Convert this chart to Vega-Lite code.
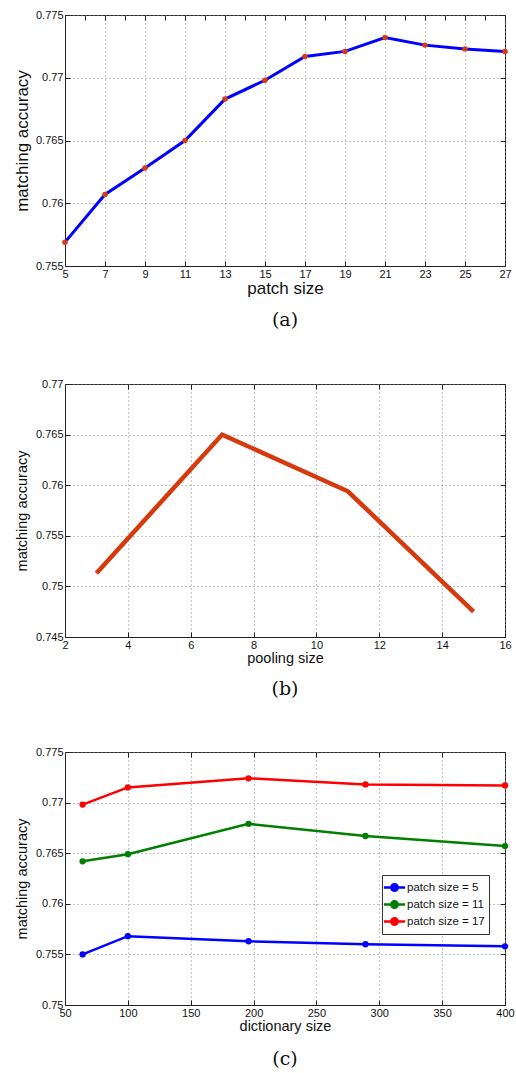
{
  "$schema": "https://vega.github.io/schema/vega-lite/v6.json",
  "padding": {"top": 8, "left": 12, "right": 2, "bottom": 2},
  "spacing": 46,
  "config": {
    "font": "Liberation Sans",
    "view": {"stroke": "#222", "strokeWidth": 1},
    "axis": {
      "labelFont": "Liberation Sans",
      "labelFontSize": 11,
      "labelColor": "#111",
      "titleFont": "Liberation Sans",
      "titleFontWeight": "normal",
      "titleColor": "#111",
      "domainColor": "#222",
      "tickColor": "#222",
      "tickSize": -5,
      "labelPadding": 7,
      "gridColor": "#888",
      "gridDash": [1, 3],
      "gridOpacity": 1,
      "labelFlush": false,
      "labelOverlap": false
    },
    "title": {"font": "DejaVu Serif", "fontSize": 19, "fontWeight": "normal", "color": "#111", "orient": "bottom", "anchor": "middle"}
  },
  "datasets": {
    "patch": [
      {"patch_size": 5, "accuracy": 0.7569},
      {"patch_size": 7, "accuracy": 0.7607},
      {"patch_size": 9, "accuracy": 0.7628},
      {"patch_size": 11, "accuracy": 0.7650},
      {"patch_size": 13, "accuracy": 0.7683},
      {"patch_size": 15, "accuracy": 0.7698},
      {"patch_size": 17, "accuracy": 0.7717},
      {"patch_size": 19, "accuracy": 0.7721},
      {"patch_size": 21, "accuracy": 0.7732},
      {"patch_size": 23, "accuracy": 0.7726},
      {"patch_size": 25, "accuracy": 0.7723},
      {"patch_size": 27, "accuracy": 0.7721}
    ],
    "pooling": [
      {"pooling_size": 3, "accuracy": 0.7513},
      {"pooling_size": 7, "accuracy": 0.7650},
      {"pooling_size": 11, "accuracy": 0.7594},
      {"pooling_size": 15, "accuracy": 0.7475}
    ],
    "dictionary": [
      {"series": "patch size = 5", "dictionary_size": 64, "accuracy": 0.7550},
      {"series": "patch size = 5", "dictionary_size": 100, "accuracy": 0.7568},
      {"series": "patch size = 5", "dictionary_size": 196, "accuracy": 0.7563},
      {"series": "patch size = 5", "dictionary_size": 289, "accuracy": 0.7560},
      {"series": "patch size = 5", "dictionary_size": 400, "accuracy": 0.7558},
      {"series": "patch size = 11", "dictionary_size": 64, "accuracy": 0.7642},
      {"series": "patch size = 11", "dictionary_size": 100, "accuracy": 0.7649},
      {"series": "patch size = 11", "dictionary_size": 196, "accuracy": 0.7679},
      {"series": "patch size = 11", "dictionary_size": 289, "accuracy": 0.7667},
      {"series": "patch size = 11", "dictionary_size": 400, "accuracy": 0.7657},
      {"series": "patch size = 17", "dictionary_size": 64, "accuracy": 0.7698},
      {"series": "patch size = 17", "dictionary_size": 100, "accuracy": 0.7715},
      {"series": "patch size = 17", "dictionary_size": 196, "accuracy": 0.7724},
      {"series": "patch size = 17", "dictionary_size": 289, "accuracy": 0.7718},
      {"series": "patch size = 17", "dictionary_size": 400, "accuracy": 0.7717}
    ]
  },
  "vconcat": [
    {
      "title": {"text": "(a)", "offset": 15},
      "width": 440,
      "height": 251,
      "data": {"name": "patch"},
      "resolve": {"axis": {"x": "independent", "y": "independent"}},
      "layer": [
        {
          "mark": {"type": "line", "color": "#0000FF", "strokeWidth": 3},
          "encoding": {
            "x": {
              "field": "patch_size", "type": "quantitative",
              "scale": {"domain": [5, 27], "nice": false, "zero": false},
              "axis": {
                "title": "patch size", "titleFontSize": 17, "titlePadding": 1,
                "values": [5, 7, 9, 11, 13, 15, 17, 19, 21, 23, 25, 27]
              }
            },
            "y": {
              "field": "accuracy", "type": "quantitative",
              "scale": {"domain": [0.755, 0.775], "nice": false, "zero": false},
              "axis": {
                "title": "matching accuracy", "titleFontSize": 17, "titlePadding": 4,
                "values": [0.755, 0.76, 0.765, 0.77, 0.775], "format": ".3~f"
              }
            }
          }
        },
        {
          "mark": {"type": "point", "filled": true, "shape": "circle", "size": 30, "color": "#DA3A10", "opacity": 1},
          "encoding": {
            "x": {
              "field": "patch_size", "type": "quantitative",
              "scale": {"domain": [5, 27], "nice": false, "zero": false},
              "axis": {"orient": "top", "title": null, "labels": false, "grid": false, "domain": false,
                "values": [5, 6, 7, 8, 9, 10, 11, 12, 13, 14, 15, 16, 17, 18, 19, 20, 21, 22, 23, 24, 25, 26, 27]}
            },
            "y": {
              "field": "accuracy", "type": "quantitative",
              "scale": {"domain": [0.755, 0.775], "nice": false, "zero": false},
              "axis": {"orient": "right", "title": null, "labels": false, "grid": false, "domain": false,
                "values": [0.755, 0.76, 0.765, 0.77, 0.775]}
            }
          }
        }
      ]
    },
    {
      "title": {"text": "(b)", "offset": 15},
      "width": 440,
      "height": 253,
      "data": {"name": "pooling"},
      "resolve": {"axis": {"x": "independent", "y": "independent"}},
      "layer": [
        {
          "mark": {"type": "line", "color": "#D63A0C", "strokeWidth": 4.5},
          "encoding": {
            "x": {
              "field": "pooling_size", "type": "quantitative",
              "scale": {"domain": [2, 16], "nice": false, "zero": false},
              "axis": {"title": "pooling size", "titleFontSize": 14.5, "titlePadding": 1,
                "values": [2, 4, 6, 8, 10, 12, 14, 16]}
            },
            "y": {
              "field": "accuracy", "type": "quantitative",
              "scale": {"domain": [0.745, 0.77], "nice": false, "zero": false},
              "axis": {"title": "matching accuracy", "titleFontSize": 14.5, "titlePadding": 6,
                "values": [0.745, 0.75, 0.755, 0.76, 0.765, 0.77], "format": ".3~f"}
            }
          }
        },
        {
          "mark": {"type": "line", "opacity": 0},
          "encoding": {
            "x": {
              "field": "pooling_size", "type": "quantitative",
              "scale": {"domain": [2, 16], "nice": false, "zero": false},
              "axis": {"orient": "top", "title": null, "labels": false, "grid": false, "domain": false,
                "values": [2, 4, 6, 8, 10, 12, 14, 16]}
            },
            "y": {
              "field": "accuracy", "type": "quantitative",
              "scale": {"domain": [0.745, 0.77], "nice": false, "zero": false},
              "axis": {"orient": "right", "title": null, "labels": false, "grid": false, "domain": false,
                "values": [0.745, 0.75, 0.755, 0.76, 0.765, 0.77]}
            }
          }
        }
      ]
    },
    {
      "title": {"text": "(c)", "offset": 17},
      "width": 440,
      "height": 253,
      "data": {"name": "dictionary"},
      "resolve": {"axis": {"x": "independent", "y": "independent"}},
      "layer": [
        {
          "mark": {"type": "line", "strokeWidth": 2.5},
          "encoding": {
            "x": {
              "field": "dictionary_size", "type": "quantitative",
              "scale": {"domain": [50, 400], "nice": false, "zero": false},
              "axis": {"title": "dictionary size", "titleFontSize": 14.5, "titlePadding": 1,
                "values": [50, 100, 150, 200, 250, 300, 350, 400]}
            },
            "y": {
              "field": "accuracy", "type": "quantitative",
              "scale": {"domain": [0.75, 0.775], "nice": false, "zero": false},
              "axis": {"title": "matching accuracy", "titleFontSize": 14.5, "titlePadding": 6,
                "values": [0.75, 0.755, 0.76, 0.765, 0.77, 0.775], "format": ".3~f"}
            },
            "color": {
              "field": "series", "type": "nominal",
              "scale": {"domain": ["patch size = 5", "patch size = 11", "patch size = 17"], "range": ["#0000FF", "#007F00", "#FF0000"]},
              "legend": {
                "title": null, "orient": "none", "legendX": 317, "legendY": 860,
                "symbolType": "M-1.5,0H1.5M-0.45,0A0.45,0.45 0 1,0 0.45,0A0.45,0.45 0 1,0 -0.45,0Z",
                "symbolSize": 200, "symbolStrokeWidth": 2.5, "symbolOpacity": 1,
                "labelFont": "Liberation Sans", "labelFontSize": 11.5, "labelColor": "#111", "labelOffset": 4,
                "rowPadding": 0, "padding": 4, "strokeColor": "#333", "fillColor": "white"
              }
            }
          }
        },
        {
          "mark": {"type": "point", "filled": true, "shape": "circle", "size": 40, "opacity": 1},
          "encoding": {
            "x": {
              "field": "dictionary_size", "type": "quantitative",
              "scale": {"domain": [50, 400], "nice": false, "zero": false},
              "axis": {"orient": "top", "title": null, "labels": false, "grid": false, "domain": false,
                "values": [50, 100, 150, 200, 250, 300, 350, 400]}
            },
            "y": {
              "field": "accuracy", "type": "quantitative",
              "scale": {"domain": [0.75, 0.775], "nice": false, "zero": false},
              "axis": {"orient": "right", "title": null, "labels": false, "grid": false, "domain": false,
                "values": [0.75, 0.755, 0.76, 0.765, 0.77, 0.775]}
            },
            "color": {"field": "series", "type": "nominal"}
          }
        }
      ]
    }
  ]
}
